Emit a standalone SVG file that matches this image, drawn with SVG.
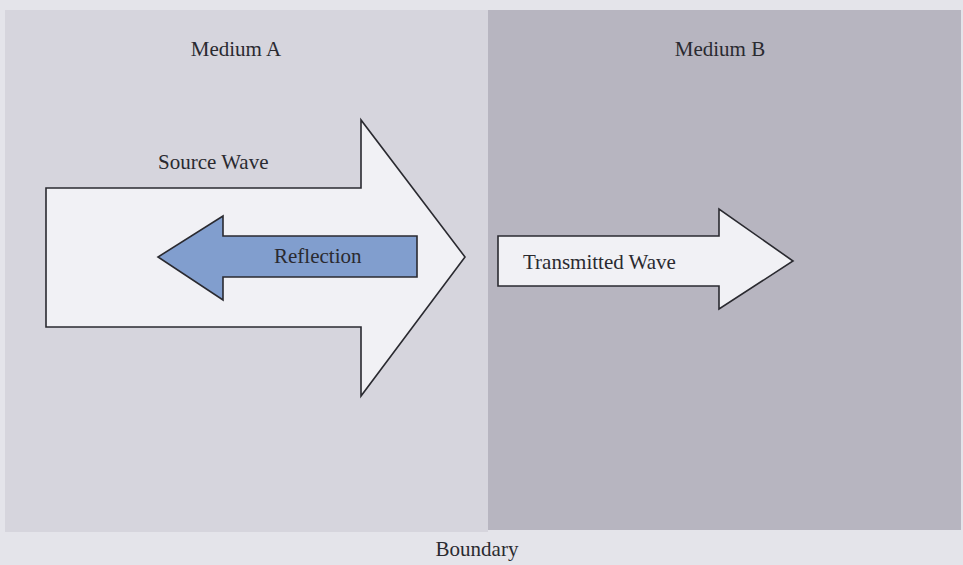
<svg xmlns="http://www.w3.org/2000/svg" width="963" height="565" viewBox="0 0 963 565">
  <style>
    .label { font-family: "Liberation Serif", "Times New Roman", serif; font-size: 21px; fill: #2a2a30; }
    .arrow { stroke: #2a2a30; stroke-width: 1.6; stroke-linejoin: miter; }
    .wave { fill: #f1f1f5; }
    .echo { fill: #819ece; }
  </style>
  <!-- page -->
  <rect x="0" y="0" width="963" height="565" fill="#e4e4ea"/>
  <!-- two media -->
  <g id="medium-a">
    <rect x="5" y="10" width="483" height="522" fill="#d6d5dd"/>
    <text class="label" x="236" y="56" text-anchor="middle">Medium A</text>
  </g>
  <g id="medium-b">
    <rect x="488" y="10" width="473" height="520" fill="#b7b5c0"/>
    <text class="label" x="720" y="56" text-anchor="middle">Medium B</text>
  </g>
  <g id="boundary">
    <text class="label" x="477" y="556" text-anchor="middle">Boundary</text>
  </g>
  <g id="connectors">
    <g id="source-wave">
      <polygon class="arrow wave" points="46,188 361,188 361,120 465,257 361,396 361,327 46,327"/>
      <text class="label" x="158" y="169">Source Wave</text>
    </g>
    <g id="reflection">
      <polygon class="arrow echo" points="417,236 223,236 223,216 158,257 223,300 223,277 417,277"/>
      <text class="label" x="274" y="263">Reflection</text>
    </g>
    <g id="transmitted-wave">
      <polygon class="arrow wave" points="498,236 719,236 719,209 793,261 719,309 719,286 498,286"/>
      <text class="label" x="523" y="269">Transmitted Wave</text>
    </g>
  </g>
</svg>
